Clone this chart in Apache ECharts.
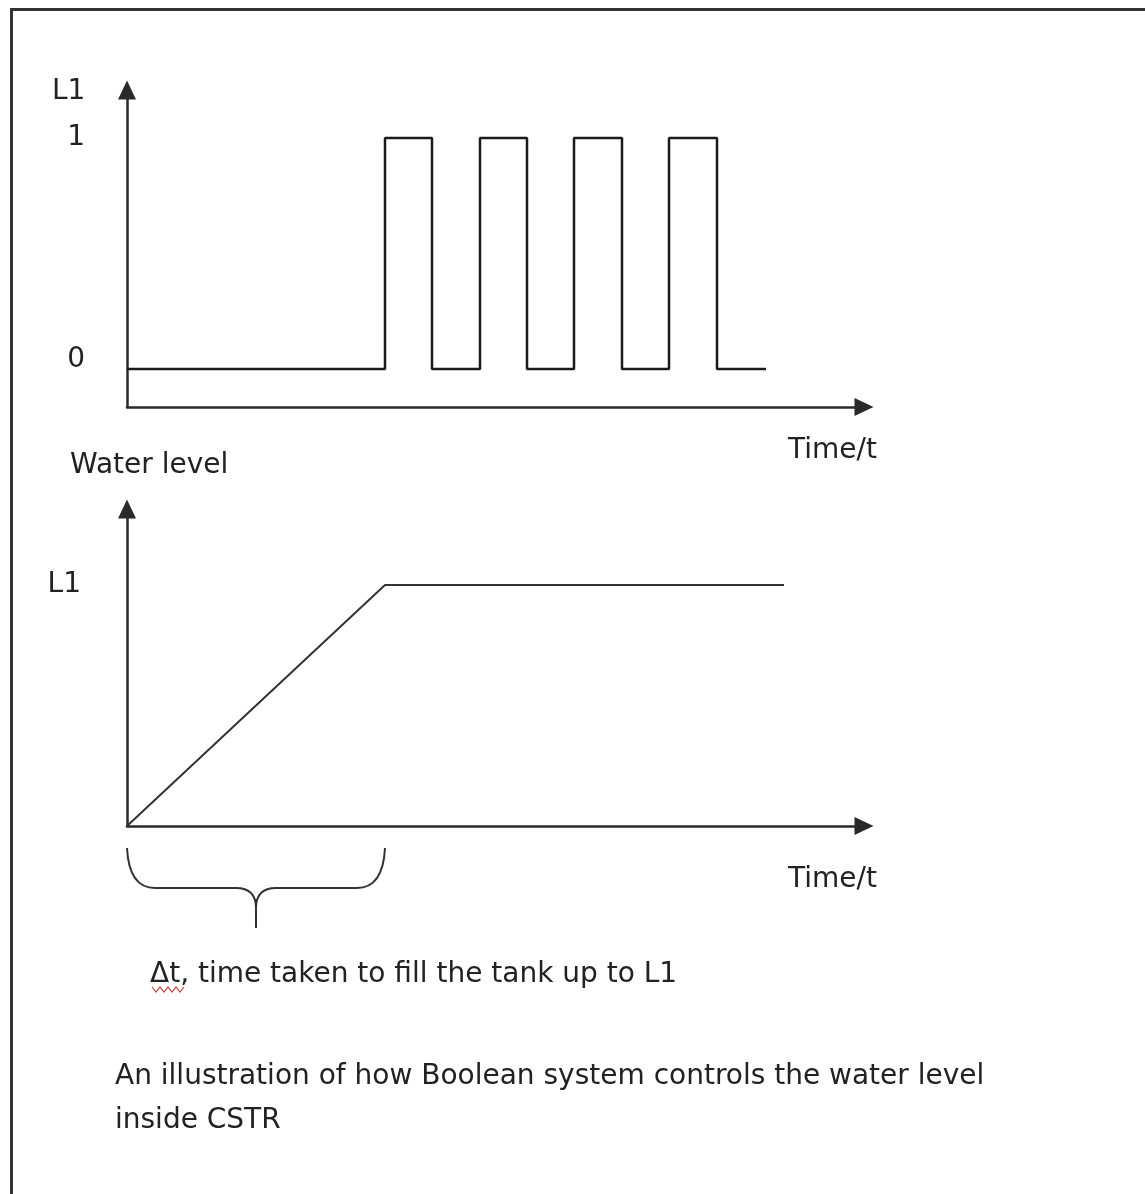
<!DOCTYPE html>
<html>
<head>
<meta charset="utf-8">
<script src="https://cdn.jsdelivr.net/npm/echarts@6/dist/echarts.min.js"></script>
<style>
  html, body { margin: 0; padding: 0; background: #fff; }
  #chart { width: 1145px; height: 1194px; }
</style>
</head>
<body>
<div id="chart"></div>
<script>
// ---- data (time in arbitrary units) ----
const switchTimes = [0, 25.8, 30.5, 35.3, 40.0, 44.7, 49.5, 54.2, 59.0, 63.9];
const switchStates = [0, 1, 0, 1, 0, 1, 0, 1, 0, 0];
const levelTimes = [0, 25.8, 65.7];
const waterLevels = [0, 1, 1];
const fillTime = 25.8;
const topTickValues = [0, 1];
const topTickLabels = ['0', '1'];
const bottomTickValues = [1];
const bottomTickLabels = ['L1'];
const texts = {
  topYName: 'L1',
  topXName: 'Time/t',
  bottomYName: 'Water level',
  bottomXName: 'Time/t',
  delta: 'Δt, time taken to fill the tank up to L1',
  caption1: 'An illustration of how Boolean system controls the water level',
  caption2: 'inside CSTR'
};

const FONT = 'DejaVu Sans';
const FS = 28;
const INK = '#222';
const AXIS = '#2a2a2a';

const chart = echarts.init(document.getElementById('chart'), null, { renderer: 'canvas' });

const axisLineStyle = {
  show: true,
  onZero: false,
  symbol: ['none', 'triangle'],
  symbolSize: [18, 19],
  lineStyle: { color: AXIS, width: 2.5 }
};

const xAxisCommon = {
  type: 'value',
  min: 0,
  max: 73.7,
  axisLine: axisLineStyle,
  axisTick: { show: false },
  axisLabel: { show: false },
  splitLine: { show: false }
};

chart.setOption({
  animation: false,
  backgroundColor: '#ffffff',
  grid: [
    { left: 127, right: 281, top: 90, bottom: 787, outerBoundsMode: 'none', containLabel: false },
    { left: 127, right: 281, top: 509, bottom: 368, outerBoundsMode: 'none', containLabel: false }
  ],
  xAxis: [
    Object.assign({ gridIndex: 0 }, xAxisCommon),
    Object.assign({ gridIndex: 1 }, xAxisCommon)
  ],
  yAxis: [
    {
      gridIndex: 0,
      type: 'value',
      min: -0.165,
      max: 1.208,
      axisLine: axisLineStyle,
      axisTick: { show: false },
      splitLine: { show: false },
      axisLabel: {
        customValues: topTickValues,
        margin: 42,
        align: 'right',
        color: INK,
        fontFamily: FONT,
        fontSize: FS,
        formatter: function (v) {
          const i = topTickValues.indexOf(v);
          const t = i >= 0 ? topTickLabels[i] : '';
          return v === 0 ? '{lo|' + t + '}' : t;
        },
        rich: { lo: { padding: [0, 0, 18, 0], fontFamily: FONT, fontSize: FS, color: INK } }
      }
    },
    {
      gridIndex: 1,
      type: 'value',
      min: 0,
      max: 1.315,
      axisLine: axisLineStyle,
      axisTick: { show: false },
      splitLine: { show: false },
      axisLabel: {
        customValues: bottomTickValues,
        margin: 46,
        align: 'right',
        color: INK,
        fontFamily: FONT,
        fontSize: FS,
        formatter: function (v) {
          const i = bottomTickValues.indexOf(v);
          return i >= 0 ? bottomTickLabels[i] : '';
        }
      }
    }
  ],
  series: [
    {
      type: 'line',
      xAxisIndex: 0,
      yAxisIndex: 0,
      step: 'end',
      showSymbol: false,
      clip: false,
      data: switchTimes.map((t, i) => [t, switchStates[i]]),
      lineStyle: { color: '#1a1a1a', width: 2.5 }
    },
    {
      type: 'line',
      xAxisIndex: 1,
      yAxisIndex: 1,
      showSymbol: false,
      clip: false,
      data: levelTimes.map((t, i) => [t, waterLevels[i]]),
      lineStyle: { color: '#333', width: 2 }
    }
  ]
});

// annotations derived from axes
const px0 = chart.convertToPixel({ xAxisIndex: 1 }, 0);
const px1 = chart.convertToPixel({ xAxisIndex: 1 }, fillTime);
const mid = (px0 + px1) / 2;
const yTop = 848, yMid = 888, yTip = 928;
const braceStyle = { stroke: '#333', lineWidth: 2, fill: null };

function quad(x1, y1, cx, cy, x2, y2) {
  return { type: 'bezierCurve', shape: { x1: x1, y1: y1, x2: x2, y2: y2, cpx1: cx, cpy1: cy }, style: braceStyle };
}
function seg(x1, y1, x2, y2) {
  return { type: 'line', shape: { x1: x1, y1: y1, x2: x2, y2: y2 }, style: braceStyle };
}
const brace = [
  quad(px0, yTop, px0 + 2, yMid, px0 + 28, yMid),
  seg(px0 + 28, yMid, mid - 20, yMid),
  quad(mid - 20, yMid, mid, yMid, mid, yMid + 20),
  seg(mid, yMid + 20, mid, yTip),
  quad(px1, yTop, px1 - 2, yMid, px1 - 28, yMid),
  seg(px1 - 28, yMid, mid + 20, yMid),
  quad(mid + 20, yMid, mid, yMid, mid, yMid + 20)
];

// red spell-check squiggle under "Δt"
const squiggle = [];
for (let i = 0; i <= 8; i++) {
  squiggle.push([152 + i * 4, i % 2 === 0 ? 987 : 992]);
}

function txt(x, y, s) {
  return {
    type: 'text',
    x: x, y: y,
    style: {
      text: s,
      fill: INK,
      font: FS + 'px "' + FONT + '"',
      verticalAlign: 'middle',
      align: 'left'
    }
  };
}

chart.setOption({
  graphic: [
    {
      type: 'polyline',
      shape: { points: [[11.5, 1200], [11.5, 9.5], [1150, 9.5]] },
      style: { stroke: '#333', lineWidth: 3, fill: null }
    },
    {
      type: 'polyline',
      shape: { points: squiggle },
      style: { stroke: '#d33', lineWidth: 1.2, fill: null }
    },
    txt(52, 92, texts.topYName),
    txt(788, 451, texts.topXName),
    txt(70, 466, texts.bottomYName),
    txt(788, 880, texts.bottomXName),
    txt(150, 975, texts.delta),
    txt(115, 1077, texts.caption1),
    txt(115, 1121, texts.caption2)
  ].concat(brace)
});
</script>
</body>
</html>
